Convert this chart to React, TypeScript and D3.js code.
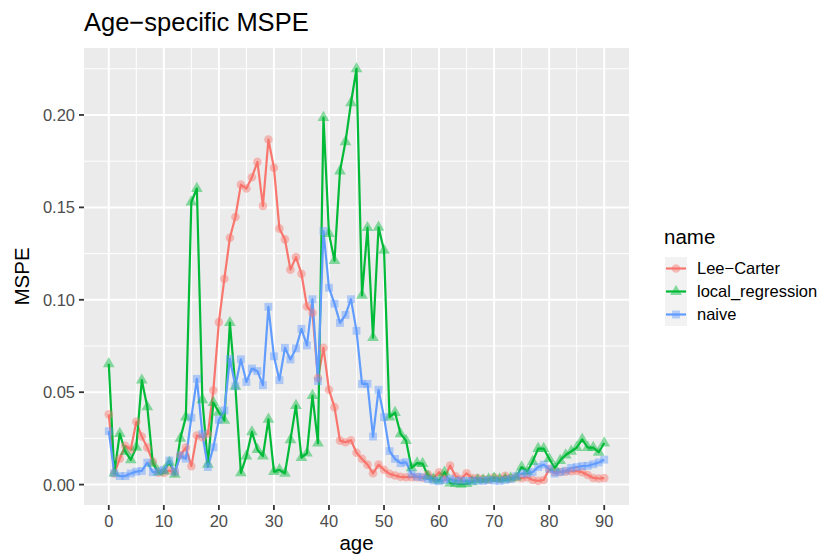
import React, { useRef, useEffect } from "react";
import * as d3 from "d3";

const ages = d3.range(0, 91);

const leeCarter = [
  0.038, 0.006, 0.014, 0.021, 0.019, 0.034, 0.026, 0.02, 0.0125, 0.0065,
  0.0063, 0.0076, 0.0065, 0.016, 0.02, 0.01, 0.0266, 0.0257, 0.0275, 0.0509,
  0.0879, 0.1114, 0.1336, 0.1448, 0.1623, 0.1602, 0.1663, 0.1746, 0.1508, 0.1867,
  0.1714, 0.1385, 0.1327, 0.1163, 0.1231, 0.1141, 0.0964, 0.093, 0.0576, 0.074,
  0.0513, 0.0419, 0.0238, 0.0229, 0.024, 0.0172, 0.0139, 0.0108, 0.0061, 0.0108,
  0.008, 0.0058, 0.0049, 0.0042, 0.004, 0.004, 0.004, 0.0037, 0.0055, 0.0035,
  0.0067, 0.0036, 0.0103, 0.0045, 0.003, 0.0061, 0.0036, 0.0035, 0.003, 0.0028,
  0.004, 0.003, 0.0048, 0.0035, 0.004, 0.0035, 0.004, 0.0025, 0.002, 0.0025,
  0.0085, 0.0067, 0.0068, 0.007, 0.0072, 0.0074, 0.0067, 0.0052, 0.0036, 0.0033,
  0.0035,
];

const localRegression = [
  0.0654, 0.0062, 0.0276, 0.0178, 0.0134, 0.0202, 0.0565, 0.042, 0.0115, 0.0067,
  0.0073, 0.0121, 0.0055, 0.025, 0.0365, 0.1529, 0.1602, 0.0459, 0.011, 0.0444,
  0.0391, 0.0347, 0.0876, 0.0531, 0.0063, 0.0154, 0.0285, 0.0189, 0.0154, 0.0353,
  0.007, 0.008, 0.0061, 0.0242, 0.0428, 0.0146, 0.017, 0.0482, 0.0224, 0.1986,
  0.1358, 0.1212, 0.1696, 0.1855, 0.2066, 0.225, 0.1024, 0.139, 0.0795, 0.1392,
  0.1268, 0.0365, 0.039, 0.0275, 0.0238, 0.009, 0.0116, 0.0114, 0.0045, 0.003,
  0.0022, 0.0067, 0.0008, 0.0006, 0.0002, 0.0005, 0.0015, 0.0025, 0.0025, 0.003,
  0.0035, 0.003, 0.003, 0.0035, 0.004, 0.0095, 0.007, 0.0125, 0.0195, 0.0195,
  0.014, 0.009, 0.013, 0.016, 0.018, 0.02, 0.0245, 0.02, 0.02, 0.0175,
  0.0225,
];

const naive = [
  0.0289, 0.0062, 0.0046, 0.0046, 0.006, 0.007, 0.0074, 0.0119, 0.0067, 0.0072,
  0.008, 0.013, 0.0068, 0.0157, 0.014, 0.0362, 0.0572, 0.0274, 0.0095, 0.0202,
  0.0351, 0.0401, 0.068, 0.0533, 0.0678, 0.0555, 0.0628, 0.0614, 0.0538, 0.0962,
  0.0694, 0.0565, 0.074, 0.0677, 0.0737, 0.0843, 0.0753, 0.1003, 0.056, 0.1372,
  0.1065, 0.0979, 0.0875, 0.0918, 0.1003, 0.0832, 0.0545, 0.0545, 0.026, 0.0513,
  0.0365, 0.0181, 0.0139, 0.0116, 0.0121, 0.0058, 0.0043, 0.004, 0.003, 0.0022,
  0.0018, 0.0025, 0.003, 0.002, 0.0022, 0.002, 0.002, 0.0022, 0.002, 0.0025,
  0.0022, 0.002, 0.0025, 0.003, 0.0045, 0.006, 0.006, 0.0068, 0.0095, 0.0108,
  0.0085, 0.006, 0.0068, 0.0075, 0.009, 0.0095, 0.01, 0.0102, 0.011, 0.012,
  0.0135,
];

const seriesNames = ["Lee\u2212Carter", "local_regression", "naive"];
const seriesValues = [leeCarter, localRegression, naive];
const seriesColors = ["#F8766D", "#00BA38", "#619CFF"];
const seriesShapes = [d3.symbolCircle, d3.symbolTriangle, d3.symbolSquare];
const shapeSizes = [58, 60, 62];

const xTicks = [0, 10, 20, 30, 40, 50, 60, 70, 80, 90];
const yTicks = [0, 0.05, 0.1, 0.15, 0.2];

const FONT = "'Liberation Sans', Arial, Helvetica, sans-serif";

const App = () => {
  const svgRef = useRef<SVGSVGElement>(null);

  useEffect(() => {
    document.body.style.margin = "0";
    const width = 832;
    const height = 558;
    const panel = { left: 84, right: 629, top: 48, bottom: 505 };

    const svg = d3.select(svgRef.current);
    svg.selectAll("*").remove();
    svg.attr("width", width).attr("height", height).style("background", "white");

    // ggplot-like 5% expansion
    const xPad = (d3.max(ages)! - d3.min(ages)!) * 0.05;
    const x = d3
      .scaleLinear()
      .domain([d3.min(ages)! - xPad, d3.max(ages)! + xPad])
      .range([panel.left, panel.right]);

    const allVals = seriesValues.flat();
    const [yMin, yMax] = d3.extent(allVals) as [number, number];
    const yPad = (yMax - yMin) * 0.05;
    const y = d3
      .scaleLinear()
      .domain([yMin - yPad, yMax + yPad])
      .range([panel.bottom, panel.top]);

    // panel background
    svg
      .append("rect")
      .attr("x", panel.left)
      .attr("y", panel.top)
      .attr("width", panel.right - panel.left)
      .attr("height", panel.bottom - panel.top)
      .attr("fill", "#EBEBEB");

    const grid = svg.append("g");
    const xMinor = d3.range(5, 90, 10);
    const yMinor = [0.025, 0.075, 0.125, 0.175, 0.225].filter(
      (v) => v >= y.domain()[0] && v <= y.domain()[1]
    );

    grid
      .selectAll(".xminor")
      .data(xMinor)
      .enter()
      .append("line")
      .attr("x1", (d) => x(d))
      .attr("x2", (d) => x(d))
      .attr("y1", panel.top)
      .attr("y2", panel.bottom)
      .attr("stroke", "white")
      .attr("stroke-width", 1);

    grid
      .selectAll(".yminor")
      .data(yMinor)
      .enter()
      .append("line")
      .attr("x1", panel.left)
      .attr("x2", panel.right)
      .attr("y1", (d) => y(d))
      .attr("y2", (d) => y(d))
      .attr("stroke", "white")
      .attr("stroke-width", 1);

    grid
      .selectAll(".xmajor")
      .data(xTicks)
      .enter()
      .append("line")
      .attr("x1", (d) => x(d))
      .attr("x2", (d) => x(d))
      .attr("y1", panel.top)
      .attr("y2", panel.bottom)
      .attr("stroke", "white")
      .attr("stroke-width", 2);

    grid
      .selectAll(".ymajor")
      .data(yTicks)
      .enter()
      .append("line")
      .attr("x1", panel.left)
      .attr("x2", panel.right)
      .attr("y1", (d) => y(d))
      .attr("y2", (d) => y(d))
      .attr("stroke", "white")
      .attr("stroke-width", 2);

    // lines
    const line = d3
      .line<number>()
      .x((_, i) => x(ages[i]))
      .y((d) => y(d));

    seriesValues.forEach((vals, s) => {
      svg
        .append("path")
        .datum(vals)
        .attr("d", line)
        .attr("fill", "none")
        .attr("stroke", seriesColors[s])
        .attr("stroke-width", 2.2)
        .attr("stroke-linejoin", "round");
    });

    // points
    seriesValues.forEach((vals, s) => {
      const sym = d3.symbol().type(seriesShapes[s]).size(shapeSizes[s]);
      svg
        .append("g")
        .selectAll("path")
        .data(vals)
        .enter()
        .append("path")
        .attr("d", sym)
        .attr("transform", (d, i) => `translate(${x(ages[i])},${y(d)})`)
        .attr("fill", seriesColors[s])
        .attr("fill-opacity", 0.45);
    });

    // axes ticks and labels
    const axes = svg.append("g").style("font-family", FONT);

    axes
      .selectAll(".xt")
      .data(xTicks)
      .enter()
      .append("line")
      .attr("x1", (d) => x(d))
      .attr("x2", (d) => x(d))
      .attr("y1", panel.bottom)
      .attr("y2", panel.bottom + 5)
      .attr("stroke", "#333333")
      .attr("stroke-width", 1.8);

    axes
      .selectAll(".xl")
      .data(xTicks)
      .enter()
      .append("text")
      .attr("x", (d) => x(d))
      .attr("y", panel.bottom + 22)
      .attr("text-anchor", "middle")
      .attr("font-size", 16.5)
      .attr("fill", "#4D4D4D")
      .text((d) => d3.format("d")(d));

    axes
      .selectAll(".yt")
      .data(yTicks)
      .enter()
      .append("line")
      .attr("x1", panel.left - 5)
      .attr("x2", panel.left)
      .attr("y1", (d) => y(d))
      .attr("y2", (d) => y(d))
      .attr("stroke", "#333333")
      .attr("stroke-width", 1.8);

    axes
      .selectAll(".yl")
      .data(yTicks)
      .enter()
      .append("text")
      .attr("x", panel.left - 9)
      .attr("y", (d) => y(d))
      .attr("dy", "0.36em")
      .attr("text-anchor", "end")
      .attr("font-size", 16.5)
      .attr("fill", "#4D4D4D")
      .text((d) => d3.format(".2f")(d));

    axes
      .append("text")
      .attr("x", (panel.left + panel.right) / 2)
      .attr("y", 550)
      .attr("text-anchor", "middle")
      .attr("font-size", 20.5)
      .attr("fill", "black")
      .text("age");

    axes
      .append("text")
      .attr("transform", `translate(29,${(panel.top + panel.bottom) / 2}) rotate(-90)`)
      .attr("text-anchor", "middle")
      .attr("font-size", 20.5)
      .attr("fill", "black")
      .text("MSPE");

    // title
    axes
      .append("text")
      .attr("x", panel.left)
      .attr("y", 31)
      .attr("font-size", 25.5)
      .attr("fill", "black")
      .text("Age\u2212specific MSPE");

    // legend
    const legend = svg.append("g").style("font-family", FONT);
    const lx = 665;
    const ly = 257;
    const keyW = 22;
    const keyH = 23;

    legend
      .append("text")
      .attr("x", lx - 1)
      .attr("y", 244)
      .attr("font-size", 20.5)
      .attr("fill", "black")
      .text("name");

    seriesNames.forEach((name, s) => {
      const gy = ly + s * keyH;
      const cy = gy + keyH / 2;
      legend
        .append("rect")
        .attr("x", lx)
        .attr("y", gy)
        .attr("width", keyW)
        .attr("height", keyH)
        .attr("fill", "#F2F2F2");
      legend
        .append("line")
        .attr("x1", lx + 1)
        .attr("x2", lx + keyW - 1)
        .attr("y1", cy)
        .attr("y2", cy)
        .attr("stroke", seriesColors[s])
        .attr("stroke-width", 2.2);
      legend
        .append("path")
        .attr("d", d3.symbol().type(seriesShapes[s]).size(shapeSizes[s])())
        .attr("transform", `translate(${lx + keyW / 2},${cy})`)
        .attr("fill", seriesColors[s])
        .attr("fill-opacity", 0.45);
      legend
        .append("text")
        .attr("x", lx + keyW + 10)
        .attr("y", cy)
        .attr("dy", "0.36em")
        .attr("font-size", 16.5)
        .attr("fill", "black")
        .text(name);
    });
  }, []);

  return <svg ref={svgRef}></svg>;
};

export default App;
